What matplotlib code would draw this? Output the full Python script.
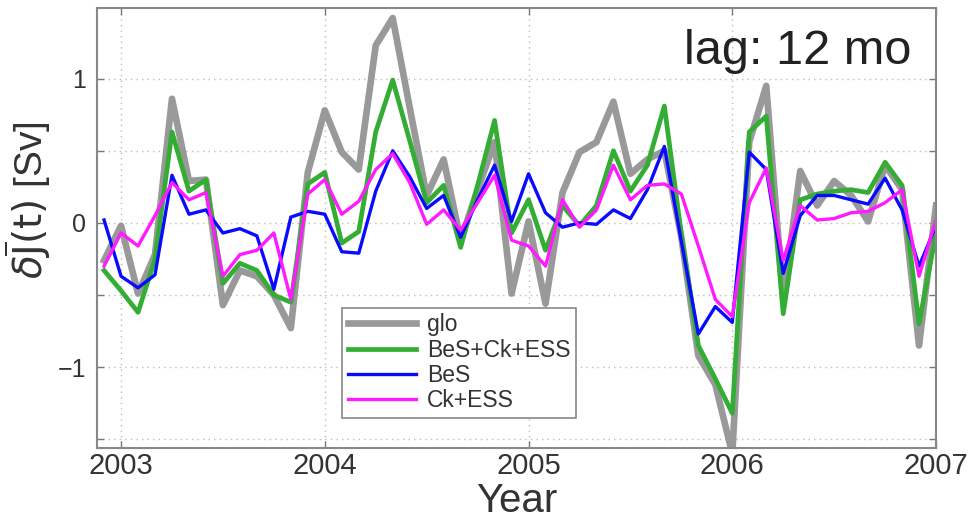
import numpy as np
import matplotlib
matplotlib.use('Agg')
import matplotlib.pyplot as plt

plt.rcParams['font.family'] = ['Liberation Sans', 'DejaVu Sans']

# monthly values, Dec 2002 .. Jan 2007
months = np.arange(-1, 49)
years = 2003 + months / 12.0

glo = [-0.26, -0.02, -0.49, -0.22, 0.86, 0.29, 0.30, -0.57, -0.33, -0.37,
       -0.50, -0.73, 0.35, 0.78, 0.49, 0.37, 1.23, 1.42, 0.80, 0.19,
       0.44, -0.12, 0.23, 0.56, -0.49, 0.01, -0.56, 0.21, 0.49, 0.56,
       0.84, 0.34, 0.44, 0.50, -0.10, -0.92, -1.12, -1.60, 0.56, 0.95,
       -0.53, 0.36, 0.12, 0.29, 0.19, 0.01, 0.40, 0.23, -0.85, 0.12]
bes_ck_ess = [-0.33, -0.47, -0.62, -0.25, 0.63, 0.22, 0.30, -0.42, -0.28, -0.33,
              -0.50, -0.55, 0.27, 0.35, -0.14, -0.06, 0.63, 0.99, 0.57, 0.14,
              0.26, -0.17, 0.26, 0.71, -0.07, 0.16, -0.19, 0.12, -0.02, 0.12,
              0.50, 0.22, 0.40, 0.81, -0.08, -0.85, -1.08, -1.32, 0.63, 0.74,
              -0.63, 0.16, 0.20, 0.22, 0.23, 0.21, 0.42, 0.26, -0.70, -0.07]
bes = [0.02, -0.37, -0.45, -0.36, 0.33, 0.06, 0.09, -0.07, -0.04, -0.09,
       -0.46, 0.04, 0.08, 0.06, -0.20, -0.21, 0.22, 0.50, 0.32, 0.10,
       0.19, -0.10, 0.16, 0.40, 0.01, 0.34, 0.07, -0.03, 0.00, -0.01,
       0.09, 0.03, 0.23, 0.53, -0.13, -0.77, -0.58, -0.69, 0.49, 0.37,
       -0.35, 0.05, 0.19, 0.19, 0.16, 0.13, 0.31, 0.09, -0.30, -0.02]
ck_ess = [-0.30, -0.07, -0.16, 0.05, 0.28, 0.16, 0.21, -0.37, -0.22, -0.19,
          -0.07, -0.53, 0.20, 0.30, 0.06, 0.15, 0.37, 0.48, 0.28, -0.01,
          0.09, -0.05, 0.14, 0.33, -0.12, -0.16, -0.30, 0.16, -0.03, 0.09,
          0.40, 0.16, 0.26, 0.27, 0.20, -0.16, -0.53, -0.65, 0.14, 0.38,
          -0.26, 0.12, 0.02, 0.03, 0.07, 0.08, 0.14, 0.23, -0.37, 0.02]

year_ticks = [2003, 2004, 2005, 2006, 2007]
y_ticks = [-1.5, -1, -0.5, 0, 0.5, 1]
y_ticklabels = ['', '\u22121', '', '0', '', '1']

fig = plt.figure(figsize=(9.73, 5.27), dpi=100)
ax = fig.add_axes([0.0997, 0.150, 0.8623, 0.835])

ax.plot(years, glo, color='#999999', lw=4.8, label='glo')
ax.plot(years, bes_ck_ess, color='#33ad33', lw=3.4, label='BeS+Ck+ESS')
ax.plot(years, bes, color='#0a0aff', lw=2.4, label='BeS')
ax.plot(years, ck_ess, color='#ff1aff', lw=2.4, label='Ck+ESS')

ax.set_xlim(2002 + 0.882, 2007)
ax.set_ylim(-1.56, 1.49)
ax.set_xticks(year_ticks)
ax.set_xticklabels([str(y) for y in year_ticks], fontsize=21, color='#333333')
ax.set_yticks(y_ticks)
ax.set_yticklabels(y_ticklabels, fontsize=18, color='#333333')
ax.tick_params(direction='in', length=5, width=1, color='#777777', top=True, right=True)
ax.tick_params(axis='x', pad=3)
ax.tick_params(axis='y', pad=8)
ax.grid(True, linestyle=(0, (1, 3)), color='#bbbbbb', lw=1)
for s in ax.spines.values():
    s.set_color('#888888')
    s.set_linewidth(1.5)

ax.set_xlabel('Year', fontsize=29, color='#333333', labelpad=1)
ax.set_ylabel(r'$\delta\overline{\mathrm{J}}(\mathrm{t})$ [Sv]', fontsize=28,
              color='#333333')
ax.yaxis.set_label_coords(-0.052, 0.564)

ax.text(0.971, 0.872, 'lag: 12 mo', transform=ax.transAxes, ha='right',
        va='baseline', fontsize=35, color='#222222')

leg = ax.legend(loc='lower left', bbox_to_anchor=(0.292, 0.068), fontsize=16.5,
                handlelength=3.0, handletextpad=0.45, labelspacing=0.1,
                borderpad=0.25, borderaxespad=0, fancybox=False, framealpha=1)
leg.get_frame().set_edgecolor('#888888')
leg.get_frame().set_linewidth(1.2)
for t in leg.get_texts():
    t.set_color('#333333')

fig.savefig('out.png', dpi=100)
